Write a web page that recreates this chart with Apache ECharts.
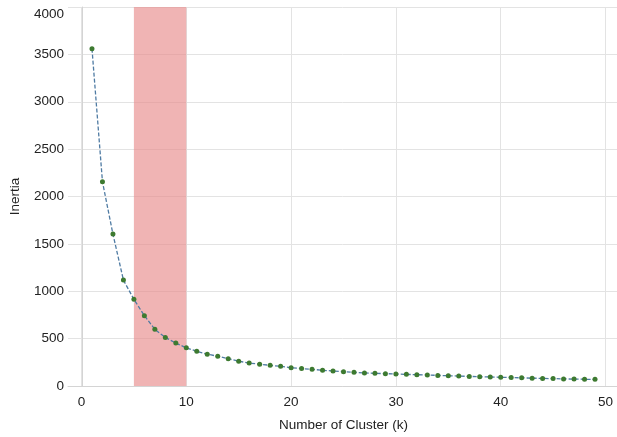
<!DOCTYPE html>
<html>
<head>
<meta charset="utf-8">
<script src="https://cdn.jsdelivr.net/npm/echarts@6/dist/echarts.min.js"></script>
<style>
  html, body { margin: 0; padding: 0; background: #fff; }
  #chart { width: 617px; height: 437px; }
</style>
</head>
<body>
<div id="chart"></div>
<script>
// 数据
var kValues = [];
for (var i = 1; i <= 49; i++) { kValues.push(i); }
var inertia = [3560, 2155, 1603, 1118, 915, 742, 598, 512, 453, 403,
               366, 336, 314, 288, 262, 242, 230, 218, 208, 192,
               184, 176, 166, 158, 151, 144, 138, 134, 130, 127,
               123, 119, 116, 112, 108, 105, 101, 98, 95, 92,
               89, 86, 83, 80, 78, 75, 73, 71, 70];
var highlightRange = [5, 10];
var yTicks = [0, 4000, 500];
var xTicks = [0, 50, 10];

var points = [];
for (var j = 0; j < kValues.length; j++) {
    points.push([kValues[j], inertia[j]]);
}

var font = 'Liberation Sans, Arial, sans-serif';
var gridColor = '#e3e3e3';

var myChart = echarts.init(document.getElementById('chart'));
var option = {
    animation: false,
    backgroundColor: '#fff',
    grid: [
        { left: 67, right: 0, top: 7, bottom: 51 },
        { left: 81.5, right: 11.5, top: 7, bottom: 51 }
    ],
    xAxis: [{
        gridIndex: 0, type: 'value', min: -1.38, max: 51.05,
        axisLine: { show: true, lineStyle: { color: '#d4d4d4' } },
        axisTick: { show: false }, axisLabel: { show: false }, splitLine: { show: false }
    }, {
        gridIndex: 1, type: 'value', min: xTicks[0], max: xTicks[1], interval: xTicks[2],
        name: 'Number of Cluster (k)', nameLocation: 'middle', nameGap: 32,
        nameTextStyle: { fontFamily: font, fontSize: 13.5, color: '#222' },
        axisLine: { show: false }, axisTick: { show: false },
        axisLabel: { fontFamily: font, fontSize: 13.5, color: '#222', margin: 9 },
        splitLine: { show: true, lineStyle: { color: gridColor, width: 1 } }
    }],
    yAxis: [{
        gridIndex: 0, type: 'value', min: yTicks[0], max: yTicks[1], interval: yTicks[2],
        name: 'Inertia', nameLocation: 'middle', nameGap: 46,
        nameTextStyle: { fontFamily: font, fontSize: 13.5, color: '#222' },
        axisLine: { show: true, lineStyle: { color: '#d4d4d4' } }, axisTick: { show: false },
        axisLabel: {
            fontFamily: font, fontSize: 13.5, color: '#222', margin: 4,
            formatter: function (v) {
                return v === yTicks[1] ? '{top|' + v + '}' : String(v);
            },
            rich: { top: { fontFamily: font, fontSize: 13.5, color: '#222', padding: [14, 0, 0, 0] } }
        },
        splitLine: { show: true, lineStyle: { color: gridColor, width: 1 } }
    }, {
        gridIndex: 1, type: 'value', min: yTicks[0], max: yTicks[1], show: false,
        splitLine: { show: false }
    }],
    series: [{
        type: 'line',
        xAxisIndex: 1, yAxisIndex: 1,
        data: points,
        symbol: 'circle',
        symbolSize: 5,
        itemStyle: { color: '#3d7a30' },
        lineStyle: { color: '#4f7ba3', width: 1.3, type: [4, 2] },
        markArea: {
            silent: true,
            itemStyle: { color: 'rgba(232,140,140,0.65)' },
            data: [[{ xAxis: highlightRange[0] }, { xAxis: highlightRange[1] }]]
        }
    }]
};
myChart.setOption(option);
</script>
</body>
</html>
